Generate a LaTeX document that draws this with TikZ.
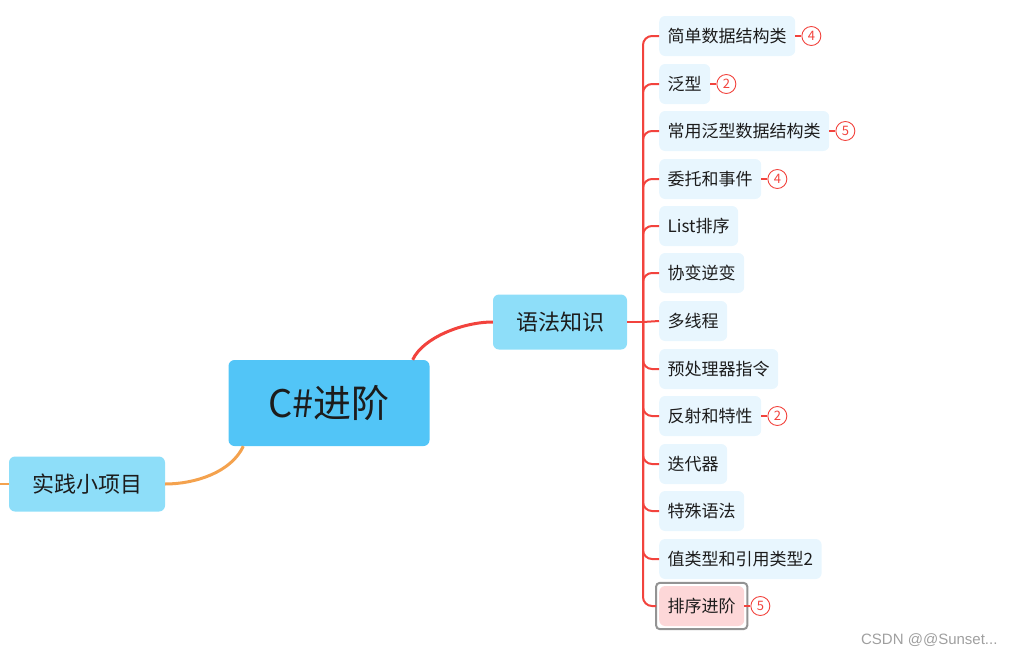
\documentclass[tikz,border=0pt]{standalone}
\usepackage{fontspec}
\setmainfont{Noto Sans CJK SC}
\newfontfamily\marksans{Liberation Sans}
\usepackage{tikz}
\usetikzlibrary{positioning,calc}

\definecolor{rootblue}{HTML}{52C5F7}
\definecolor{midblue}{HTML}{8EDEF9}
\definecolor{leafblue}{HTML}{E8F6FE}
\definecolor{mapred}{HTML}{F2433D}
\definecolor{maporange}{HTML}{F4A24E}
\definecolor{hotpink}{HTML}{FDD7D8}
\definecolor{inkdark}{HTML}{1C1C1C}

\begin{document}
\begin{tikzpicture}[
x=1pt, y=1pt,
rootbox/.style={rounded corners=6pt, fill=rootblue, minimum width=201pt, minimum height=86pt, font=\fontsize{38}{40}\selectfont, text=inkdark},
topicbox/.style={rounded corners=6pt, fill=midblue, minimum height=55pt, inner xsep=23pt, font=\fontsize{22}{24}\selectfont, text=inkdark},
leafbox/.style={rounded corners=6pt, fill=leafblue, minimum height=40pt, inner xsep=8.5pt, anchor=west, font=\fontsize{17}{19}\selectfont, text=inkdark},
badge/.style={circle, draw=mapred, line width=0.9pt, fill=white, minimum size=19pt, inner sep=0pt, text=mapred, font=\fontsize{13}{13}\selectfont},
redline/.style={draw=mapred, line width=2pt},
twig/.style={draw=mapred, line width=2pt, rounded corners=9pt},
orangeline/.style={draw=maporange, line width=3pt}
]
\useasboundingbox (0,0) rectangle (1015,-656);

\node[rootbox] (root) at (329,-403) {C\#进阶};
\node[topicbox] (syntax) at (560,-322) {语法知识};
\node[topicbox] (project) at (87,-484) {实践小项目};
\coordinate (edge) at (0,-484);
\coordinate (hub) at (643,-322);

% leaves
\node[leafbox] (simple) at (659,-36) {简单数据结构类};
\node[leafbox] (generic) at (659,-84) {泛型};
\node[leafbox] (gencoll) at (659,-131) {常用泛型数据结构类};
\node[leafbox] (delegate) at (659,-179) {委托和事件};
\node[leafbox] (listsort) at (659,-226) {List排序};
\node[leafbox] (variance) at (659,-273) {协变逆变};
\node[leafbox] (thread) at (659,-321) {多线程};
\node[leafbox] (prepro) at (659,-369) {预处理器指令};
\node[leafbox] (reflect) at (659,-416) {反射和特性};
\node[leafbox] (iter) at (659,-464) {迭代器};
\node[leafbox] (special) at (659,-511) {特殊语法};
\node[leafbox] (valref) at (659,-559) {值类型和引用类型2};
\node[leafbox, fill=hotpink] (sorting) at (659,-606) {排序进阶};
\draw[rounded corners=4pt, draw=gray!85, line width=2pt] ([shift={(-3,3)}]sorting.north west) rectangle ([shift={(3,-3)}]sorting.south east);

% counters
\node[badge, right=6pt of simple] (simplecnt) {4};
\node[badge, right=6pt of generic] (genericcnt) {2};
\node[badge, right=6pt of gencoll] (gencollcnt) {5};
\node[badge, right=6pt of delegate] (delegatecnt) {4};
\node[badge, right=6pt of reflect] (reflectcnt) {2};
\node[badge, right=6pt of sorting] (sortingcnt) {5};

\draw[redline] (simple) -- (simplecnt);
\draw[redline] (generic) -- (genericcnt);
\draw[redline] (gencoll) -- (gencollcnt);
\draw[redline] (delegate) -- (delegatecnt);
\draw[redline] (reflect) -- (reflectcnt);
\draw[redline] (sorting) -- (sortingcnt);

% main branches
\draw[line width=3pt, draw=mapred] ([xshift=-17pt]root.north east) .. controls +(10,22) and +(-30,0) .. (syntax.west);
\draw[orangeline] ([xshift=15pt]root.south west) .. controls +(-12,-26) and +(30,0) .. (project.east);
\draw[orangeline, line width=2pt] (project.west) -- (edge);
\draw[redline] (syntax.east) -- (hub);

\draw[twig] (hub) |- (simple.west);
\draw[twig] (hub) |- (generic.west);
\draw[twig] (hub) |- (gencoll.west);
\draw[twig] (hub) |- (delegate.west);
\draw[twig] (hub) |- (listsort.west);
\draw[twig] (hub) |- (variance.west);
\draw[redline] (hub) -- (thread.west);
\draw[twig] (hub) |- (prepro.west);
\draw[twig] (hub) |- (reflect.west);
\draw[twig] (hub) |- (iter.west);
\draw[twig] (hub) |- (special.west);
\draw[twig] (hub) |- (valref.west);
\draw[twig] (hub) |- ([xshift=-3pt]sorting.west);

\node[anchor=east, text=gray!75, font=\marksans\fontsize{15}{16}\selectfont] (mark) at (1001,-640) {CSDN @@Sunset...};
\end{tikzpicture}
\end{document}
